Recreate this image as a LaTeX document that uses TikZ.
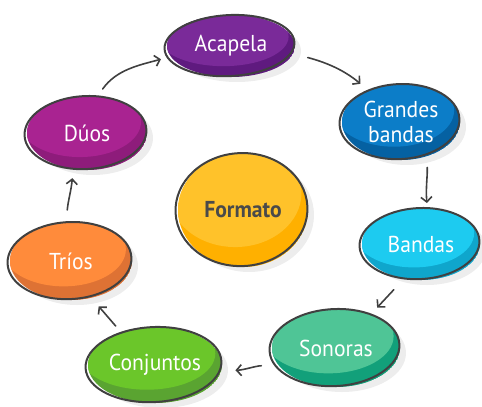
\documentclass[tikz,border=0pt]{standalone}
\usepackage{fontspec}
\setmainfont{PT Sans}[FakeStretch=0.94]
\usetikzlibrary{arrows.meta,calc,shapes.geometric}
\definecolor{shadowc}{HTML}{EDEDED}
\definecolor{outc}{HTML}{404040}
\definecolor{acaD}{HTML}{5F1A7F}\definecolor{acaL}{HTML}{7A2A99}
\definecolor{graD}{HTML}{0561A2}\definecolor{graL}{HTML}{0C7DC8}
\definecolor{banD}{HTML}{0FA6CC}\definecolor{banL}{HTML}{1DCBF0}
\definecolor{sonD}{HTML}{12A07A}\definecolor{sonL}{HTML}{4FC596}
\definecolor{conD}{HTML}{5AA431}\definecolor{conL}{HTML}{6BC62A}
\definecolor{triD}{HTML}{DE7234}\definecolor{triL}{HTML}{FF8B3B}
\definecolor{duoD}{HTML}{8E1C7B}\definecolor{duoL}{HTML}{A92391}
\definecolor{forD}{HTML}{FFB000}\definecolor{forL}{HTML}{FFC22A}
\definecolor{fortext}{HTML}{4A4A4A}
\tikzset{
  outl/.style={draw=outc, line width=2pt},
  lbl/.style={ellipse, inner sep=0pt, align=center, font=\fontsize{23}{25}\selectfont},
  arr/.style={draw=outc, line width=1.6pt, line cap=round, -{Straight Barb[length=5pt,width=11pt]}}
}
% name, x, y, rx, ry, dark, light, text colour, text
\newcommand\blob[9]{%
  \fill[shadowc] (#2+6,#3+5) ellipse [x radius=#4pt, y radius=#5pt];
  \begin{scope}
    \clip (#2,#3) ellipse [x radius=#4pt, y radius=#5pt];
    \fill[#6] (#2,#3) ellipse [x radius=#4pt, y radius=#5pt];
    \fill[#7] (#2-0.12*#4,#3-0.30*#5) ellipse [x radius=1.02*#4pt, y radius=0.95*#5pt];
  \end{scope}
  \draw[outl, rotate around={3:(#2,#3)}] (#2-1.5,#3-0.5) ellipse [x radius=#4pt+1pt, y radius=#5pt-0.5pt];
  \node[lbl, minimum width={2*#4pt}, minimum height={2*#5pt}, text=#8] (#1) at (#2,#3) {#9};
}
\begin{document}
\begin{tikzpicture}[x=1pt,y=-1pt]
\useasboundingbox (0,0) rectangle (482,407);
\blob{acapela}{231}{46}{64}{31}{acaD}{acaL}{white}{Acapela}
\blob{grandes}{401}{122}{59}{38}{graD}{graL}{white}{Grandes\\bandas}
\blob{bandas}{421}{244}{59}{36}{banD}{banL}{white}{Bandas}
\blob{sonoras}{336}{348}{64}{39}{sonD}{sonL}{white}{Sonoras}
\blob{conjuntos}{155}{365}{67}{38}{conD}{conL}{white}{Conjuntos}
\blob{trios}{71}{261}{61}{39}{triD}{triL}{white}{Tríos}
\blob{duos}{87}{133}{60}{37}{duoD}{duoL}{white}{Dúos}
\blob{formato}{243}{210}{65}{57}{forD}{forL}{fortext}{\bfseries Formato}

\draw[arr, shorten <=15pt, shorten >=10pt] (acapela.-7) to[out=-15, in=140] (grandes.136);
\draw[arr, shorten <=11pt, shorten >=5pt] (grandes.-53) to[out=-88, in=95] (bandas.80);
\draw[arr, shorten <=15pt, shorten >=10pt] (bandas.244) -- (sonoras.44);
\draw[arr, shorten <=18pt, shorten >=14pt] (sonoras.198) to[out=178, in=2] (conjuntos.-5);
\draw[arr, shorten <=8pt, shorten >=11pt] (conjuntos.136) -- (trios.-61);
\draw[arr, shorten <=12pt, shorten >=9pt] (trios.97) to[out=85, in=-95] (duos.249);
\draw[arr, shorten <=9pt, shorten >=10pt] (duos.74) to[out=55, in=195] (acapela.190);
\end{tikzpicture}
\end{document}
